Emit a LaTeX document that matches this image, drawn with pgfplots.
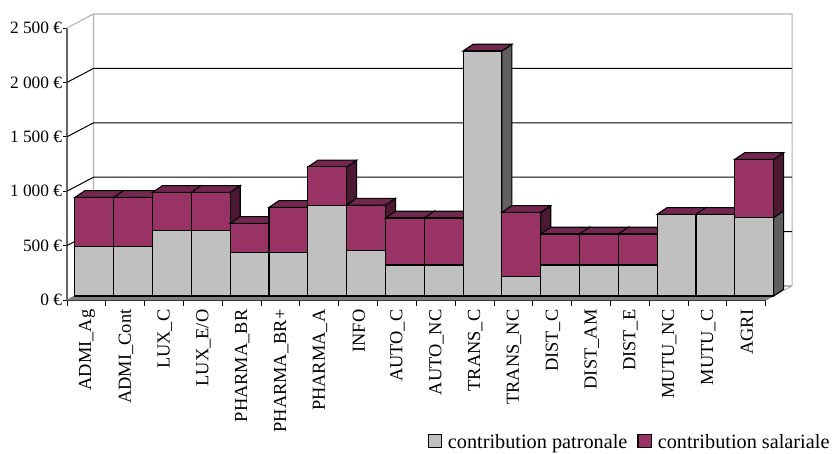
\documentclass[border=0pt]{standalone}
\usepackage{pgfplots}
\pgfplotsset{compat=1.18}
\usepackage{fontspec}
\setmainfont{Liberation Serif}
\definecolor{cg}{HTML}{C0C0C0}
\definecolor{cgs}{HTML}{606060}
\definecolor{cp}{HTML}{993366}
\definecolor{cpt}{HTML}{732650}
\definecolor{cps}{HTML}{4C1933}
\newcommand{\onebar}[3]{%
 \pgfmathsetmacro{\xa}{#1+0.205}\pgfmathsetmacro{\xb}{#1+1.205}%
 \pgfmathsetmacro{\xc}{#1+0.463}\pgfmathsetmacro{\xd}{#1+1.463}%
 \pgfmathsetmacro{\ya}{36.8}\pgfmathsetmacro{\yg}{#2+36.8}\pgfmathsetmacro{\yt}{#3+36.8}%
 \pgfmathsetmacro{\yab}{36.8+62}\pgfmathsetmacro{\ygb}{#2+36.8+62}\pgfmathsetmacro{\ytb}{#3+36.8+62}%
 \addplot[fill=cgs,draw=black,line width=0.8pt,line join=miter] coordinates {(\xb,\ya)(\xd,\yab)(\xd,\ygb)(\xb,\yg)} -- cycle;
 \addplot[fill=cps,draw=black,line width=0.8pt] coordinates {(\xb,\yg)(\xd,\ygb)(\xd,\ytb)(\xb,\yt)} -- cycle;
 \addplot[fill=cpt,draw=black,line width=0.8pt] coordinates {(\xa,\yt)(\xc,\ytb)(\xd,\ytb)(\xb,\yt)} -- cycle;
 \addplot[fill=cg,draw=black,line width=0.8pt] coordinates {(\xa,\ya)(\xb,\ya)(\xb,\yg)(\xa,\yg)} -- cycle;
 \addplot[fill=cp,draw=black,line width=0.8pt] coordinates {(\xa,\yg)(\xb,\yg)(\xb,\yt)(\xa,\yt)} -- cycle;
}
\begin{document}
\begin{tikzpicture}
\useasboundingbox (0,0) rectangle (624.75pt,340.5pt);
\begin{axis}[
 at={(50.25pt,115.5pt)},anchor=south west,
 scale only axis,width=524pt,height=204pt,
 xmin=0,xmax=18,ymin=0,ymax=2500,clip=false,
 axis lines=left,
 x axis line style={-,draw=black,line width=0.8pt},
 y axis line style={-,draw=gray!80!black,line width=1.1pt},
 every tick/.style={black,line width=0.6pt},
 tick align=outside,
 ytick={0,500,1000,1500,2000,2500},
 yticklabels={0 €,500 €,1 000 €,1 500 €,2 000 €,2 500 €},
 yticklabel style={font=\fontsize{13pt}{13pt}\selectfont,inner sep=0pt,xshift=-0.5pt},
 xtick={0.5,1.5,2.5,3.5,4.5,5.5,6.5,7.5,8.5,9.5,10.5,11.5,12.5,13.5,14.5,15.5,16.5,17.5},
 xticklabels={ADMI\_Ag,ADMI\_Cont,LUX\_C,LUX\_E/O,PHARMA\_BR,PHARMA\_BR+,PHARMA\_A,INFO,AUTO\_C,AUTO\_NC,TRANS\_C,TRANS\_NC,DIST\_C,DIST\_AM,DIST\_E,MUTU\_NC,MUTU\_C,AGRI},
 xticklabel style={rotate=90,anchor=east,font=\fontsize{13.8pt}{13.8pt}\selectfont,inner sep=0pt,yshift=-0.5pt,xshift=-4pt},
 major x tick style={draw=none},
 minor xtick={0,1,...,18},
 minor tick length=4.5pt,
 major tick length=3pt,
 minor x tick style={black,line width=0.6pt},
 legend style={draw=none,fill=none,at={(axis cs:19.72,-1406)},anchor=south east,legend columns=2,font=\fontsize{15.2pt}{15.2pt}\selectfont,inner sep=0pt,/tikz/every even column/.style={column sep=5.5pt},/tikz/every odd column/.style={column sep=2.5pt}},
 legend cell align=left,
 legend image code/.code={\draw[#1,line width=0.8pt] (0cm,-4.25pt) rectangle (10pt,5.75pt);},
]
% back walls and gridlines
\addplot[forget plot,gray!60,line width=0.8pt] coordinates {(0,0)(0.683,128.7)(0.683,2628.7)(18.683,2628.7)(18.683,128.7)(18,0)};
\addplot[forget plot,gray!60,line width=0.8pt] coordinates {(0,2500)(0.683,2628.7)};
\addplot[forget plot,gray!60,line width=0.8pt] coordinates {(0.683,128.7)(18.683,128.7)};
\addplot[forget plot,black,line width=0.75pt] coordinates {(0,500)(0.683,628.7)(18.683,628.7)};
\addplot[forget plot,black,line width=0.75pt] coordinates {(0,1000)(0.683,1128.7)(18.683,1128.7)};
\addplot[forget plot,black,line width=0.75pt] coordinates {(0,1500)(0.683,1628.7)(18.683,1628.7)};
\addplot[forget plot,black,line width=0.75pt] coordinates {(0,2000)(0.683,2128.7)(18.683,2128.7)};
\addplot[forget plot,fill=gray,draw=gray] coordinates {(0,0)(0.205,36.8)(18.205,36.8)(18,0)} -- cycle;
\pgfplotsset{every axis plot/.append style={forget plot}}
\onebar{0}{453}{907}
\onebar{1}{453}{907}
\onebar{2}{600}{953}
\onebar{3}{600}{953}
\onebar{4}{402}{668}
\onebar{5}{402}{815}
\onebar{6}{836}{1186}
\onebar{7}{414}{836}
\onebar{8}{285}{717}
\onebar{9}{285}{717}
\onebar{10}{2252}{2252}
\onebar{11}{181}{769}
\onebar{12}{285}{570}
\onebar{13}{285}{570}
\onebar{14}{285}{570}
\onebar{15}{751}{751}
\onebar{16}{751}{751}
\onebar{17}{720}{1256}
\pgfplotsset{every axis plot/.append style={forget plot=false}}
\addlegendimage{fill=cg,draw=black}
\addlegendentry{contribution patronale}
\addlegendimage{fill=cp,draw=black}
\addlegendentry{contribution salariale}
\end{axis}
\end{tikzpicture}
\end{document}
